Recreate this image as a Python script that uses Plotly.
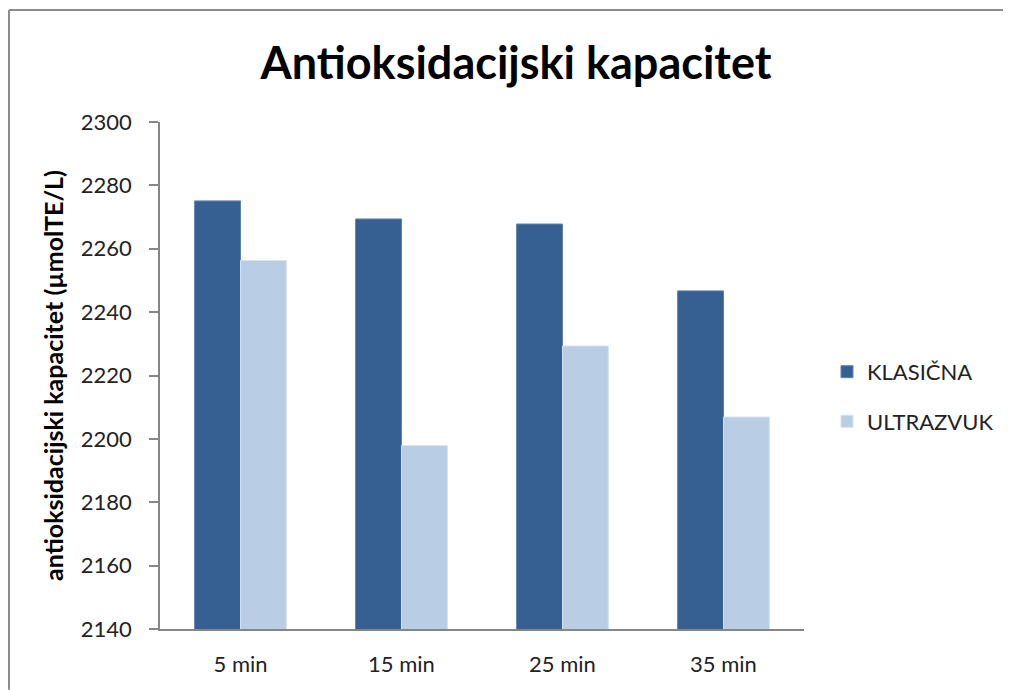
import plotly.graph_objects as go

categories = ["5 min", "15 min", "25 min", "35 min"]
klasicna = [2275.1, 2269.4, 2267.8, 2246.7]
ultrazvuk = [2256.3, 2197.9, 2229.3, 2206.9]
series_names = ["KLASIČNA", "ULTRAZVUK"]
y_ticks = [2140, 2160, 2180, 2200, 2220, 2240, 2260, 2280, 2300]

FONT = "Lato"
# page body has an 8px margin
OFF = 8
W, H = 1003, 682
L, T = 152, 114
R = W - (804 - OFF)
B = H - (629.3 - OFF)
pw, ph = W - L - R, H - T - B

fig = go.Figure()
fig.add_trace(go.Bar(x=categories, y=klasicna, name=series_names[0],
                     marker=dict(color="#376092", line=dict(color="#5f82ad", width=1)),
                     legendgroup="a"))
fig.add_trace(go.Bar(x=categories, y=ultrazvuk, name=series_names[1],
                     marker=dict(color="#b9cde5", line=dict(color="#d6e2f0", width=1)),
                     legendgroup="b"))

def px_x(p):
    return (p - OFF - L) / pw

def px_y(p):
    return (H - B - (p - OFF)) / ph

fig.update_layout(
    width=W, height=H,
    margin=dict(l=L, r=R, t=T, b=B),
    paper_bgcolor="white", plot_bgcolor="white",
    barmode="group", bargap=0.43, bargroupgap=0,
    font=dict(family=FONT, color="#222222"),
    title=dict(text="<b>Antioksidacijski kapacitet</b>", x=(516 - OFF) / W, xanchor="center",
               xref="container", y=1 - (63 - OFF) / H, yanchor="middle",
               font=dict(size=45, family=FONT, color="black")),
    showlegend=True,
    legend=dict(x=px_x(827), y=px_y(351), xanchor="left", yanchor="top",
                font=dict(size=22, family=FONT, color="#222222"),
                tracegroupgap=18, bgcolor="rgba(0,0,0,0)"),
    xaxis=dict(showline=True, linecolor="#868686", linewidth=1.5, ticks="",
               tickfont=dict(size=22, family=FONT, color="#222222"),
               showgrid=False, zeroline=False, ticklabelstandoff=15),
    yaxis=dict(range=[2140, 2300], tickvals=y_ticks, showline=True,
               linecolor="#868686", linewidth=1.5, ticks="outside", ticklen=9,
               tickcolor="#868686", tickwidth=1.5, showgrid=False, zeroline=False,
               tickfont=dict(size=22, family=FONT, color="#222222"),
               ticklabelstandoff=13,
               title=dict(text="<b>antioksidacijski kapacitet (µmolTE/L)</b>",
                          font=dict(size=25, family=FONT, color="black"), standoff=10)),
    shapes=[
        dict(type="line", xref="paper", yref="paper",
             x0=px_x(9), x1=px_x(1011), y0=px_y(10), y1=px_y(10),
             line=dict(color="#8c8c8c", width=2), layer="below"),
        dict(type="line", xref="paper", yref="paper",
             x0=px_x(9), x1=px_x(9), y0=px_y(10), y1=px_y(690),
             line=dict(color="#8c8c8c", width=2), layer="below"),
    ],
)

fig.write_html("out.html")
